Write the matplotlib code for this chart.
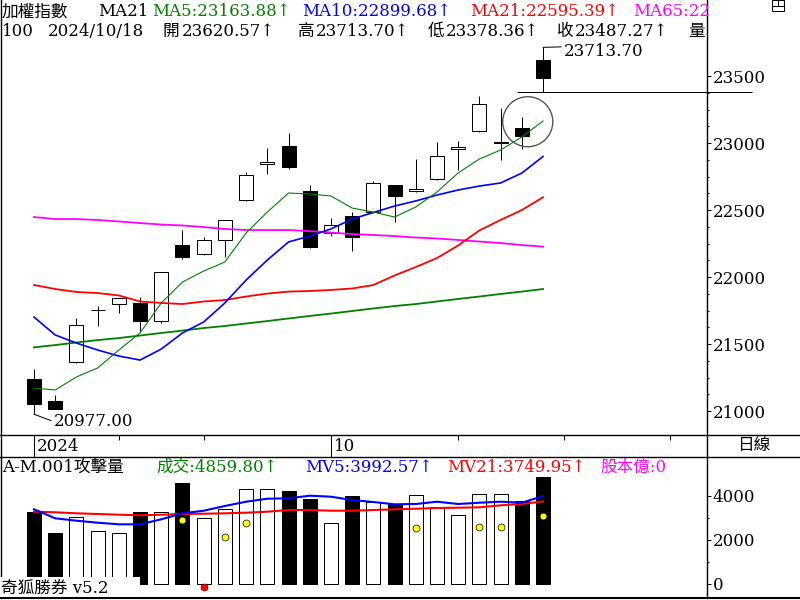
import matplotlib
matplotlib.use('Agg')
import matplotlib.pyplot as plt
import numpy as np
from matplotlib.patches import Rectangle, Ellipse
from matplotlib.lines import Line2D
from matplotlib.ticker import FixedLocator

plt.rcParams['font.family'] = ['DejaVu Serif', 'Noto Sans CJK TC']
plt.rcParams['font.size'] = 12

# ---- data ----
opens = [21240, 21075, 21364, 21752, 21797, 21804, 21670, 22239, 22170, 22274, 22573, 22841, 22978,
         22642, 22327, 22456, 22483, 22685, 22640, 22729, 22953, 23087, 23000, 23112, 23620.57]
highs = [21314, 21118, 21692, 21782, 21845, 21849, 22040, 22351, 22299, 22428, 22784, 22961, 23075,
         22685, 22441, 22483, 22714, 22690, 22881, 23008, 23015, 23351, 23261, 23194, 23713.70]
lows = [20977.00, 21015, 21360, 21635, 21730, 21588, 21655, 22133, 22165, 22152, 22570, 22771, 22808,
        22215, 22309, 22192, 22480, 22413, 22637, 22725, 22801, 23085, 22871, 22953, 23378.36]
closes = [21055, 21018, 21640, 21752, 21842, 21675, 22036, 22152, 22274, 22424, 22759, 22856, 22823,
          22222, 22388, 22301, 22700, 22607, 22657, 22901, 22968, 23289, 23005, 23055, 23487.27]

ma5 = [21172, 21158, 21255, 21322, 21456, 21583, 21807, 21963, 22045, 22113, 22329, 22485, 22627,
       22620, 22605, 22515, 22485, 22448, 22523, 22635, 22777, 22881, 22948, 23045, 23163.88]
ma10 = [21702, 21568, 21508, 21456, 21411, 21381, 21463, 21583, 21665, 21807, 21978, 22127, 22262,
        22306, 22359, 22433, 22482, 22530, 22568, 22612, 22650, 22679, 22702, 22776, 22899.68]
ma21 = [21941, 21911, 21889, 21881, 21863, 21818, 21807, 21799, 21818, 21829, 21855, 21877, 21892,
        21896, 21904, 21915, 21941, 22012, 22075, 22142, 22236, 22348, 22426, 22500, 22595.39]
ma65 = [22448, 22433, 22433, 22426, 22415, 22403, 22392, 22385, 22373, 22359, 22351, 22351, 22351,
        22343, 22332, 22321, 22314, 22306, 22295, 22288, 22277, 22265, 22254, 22239, 22227]
ma_long = [21476, 21493, 21512, 21530, 21545, 21564, 21583, 21601, 21620, 21635, 21654, 21672, 21691,
           21710, 21728, 21747, 21766, 21784, 21799, 21818, 21837, 21855, 21874, 21892, 21911]

volume = [3265, 2306, 3023, 2397, 2306, 3265, 3265, 4589, 2977, 3402, 4315, 4315, 4224,
          3858, 2763, 3995, 3721, 3630, 4041, 3479, 3128, 4087, 4087, 3750, 4859.80]
mv5 = [3388, 2977, 2868, 2776, 2703, 2703, 2932, 3205, 3324, 3539, 3735, 3872, 3890,
       4009, 3963, 3813, 3721, 3616, 3630, 3735, 3630, 3689, 3735, 3689, 3992.57]
mv21 = [3279, 3251, 3205, 3174, 3142, 3114, 3142, 3174, 3187, 3205, 3233, 3279, 3356,
        3356, 3324, 3324, 3356, 3388, 3416, 3447, 3461, 3479, 3571, 3630, 3749.95]
attack_idx = [7, 9, 10, 18, 21, 22, 24]
attack_val = [2900, 2123, 2763, 2548, 2580, 2580, 3096]
weak_idx = [8]
weak_val = [-146]

price_ticks = [21000, 21500, 22000, 22500, 23000, 23500]
vol_ticks = [0, 2000, 4000]
date_ticks = [0, 4, 8, 14, 20, 25, 30]
month_ticks = [0, 14]
month_labels = ['2024', '10']

# ---- layout helpers (pixel -> figure fraction) ----
W, H = 800, 600
PX = 0.72  # one pixel in points


def fx(x):
    return x / W


def fy(y):
    return 1 - y / H


def hline(y, x0, x1, lw=1.0):
    fig.add_artist(Line2D([fx(x0), fx(x1)], [fy(y), fy(y)], transform=fig.transFigure,
                          color='black', lw=lw))


def vline(x, y0, y1, lw=1.0):
    fig.add_artist(Line2D([fx(x), fx(x)], [fy(y0), fy(y1)], transform=fig.transFigure,
                          color='black', lw=lw))


def label(x, y, s, color='black', **kw):
    fig.text(fx(x), fy(y), s, color=color, va='baseline', ha='left', **kw)


fig = plt.figure(figsize=(8, 6), dpi=100)
fig.patch.set_facecolor('white')

XL = (-1.556, 31.73)
ax_p = fig.add_axes([fx(1), fy(435), 706 / W, 435 / H])
ax_d = fig.add_axes([fx(1), fy(456.7), 706 / W, 21.7 / H])
ax_v = fig.add_axes([fx(1), fy(597.5), 706 / W, (597.5 - 456.7) / H])
for ax in (ax_p, ax_d, ax_v):
    ax.set_xlim(*XL)
    ax.set_xticks([])
    for s in ax.spines.values():
        s.set_visible(False)

# ---- price panel ----
bw = 0.66
idx = np.arange(len(closes))
up = [c >= o for o, c in zip(opens, closes)]
for i in idx:
    o, h, l, c = opens[i], highs[i], lows[i], closes[i]
    ax_p.vlines(i, l, h, color='black', lw=PX, zorder=2)
    ax_p.add_patch(Rectangle((i - bw / 2, min(o, c)), bw, abs(c - o),
                             facecolor='white' if up[i] else 'black',
                             edgecolor='black', lw=PX, zorder=3))

ax_p.plot(idx, ma_long, color='#008000', lw=1.3, zorder=4)
ax_p.plot(idx, ma65, color='#ff00ff', lw=1.3, zorder=4)
ax_p.plot(idx, ma21, color='#ff0000', lw=1.3, zorder=4)
ax_p.plot(idx, ma10, color='#0000ff', lw=1.2, zorder=4)
ax_p.plot(idx, ma5, color='#008000', lw=0.8, zorder=4)

# last-day low line and highlight circle
last = idx[-1]
ax_p.hlines(lows[-1], last - 1.24, last + 9.84, color='black', lw=PX, clip_on=False, zorder=5)
ax_p.add_patch(Ellipse((last - 0.72, 23159), 2.36, 373, facecolor='none',
                       edgecolor='#555555', lw=1.0, zorder=6))

# high / low annotations
ax_p.annotate(f'{highs[-1]:.2f}', xy=(last, highs[-1]), xytext=(21, -9),
              textcoords='offset pixels', ha='left', va='baseline',
              arrowprops=dict(arrowstyle='-', lw=PX, shrinkA=0, shrinkB=0,
                              relpos=(0, 0.8), color='black'))
ax_p.annotate(f'{lows[0]:.2f}', xy=(0, lows[0]), xytext=(20, -12),
              textcoords='offset pixels', ha='left', va='baseline',
              arrowprops=dict(arrowstyle='-', lw=PX, shrinkA=0, shrinkB=0,
                              relpos=(0, 0.5), color='black'))

ax_p.set_ylim(20822, 24067)
ax_p.yaxis.tick_right()
ax_p.set_yticks(price_ticks)
ax_p.yaxis.set_minor_locator(FixedLocator([v for v in np.arange(21000, 23501, 125) if v % 500]))
ax_p.tick_params(axis='y', which='major', direction='out', length=3, width=PX, pad=1)
ax_p.tick_params(axis='y', which='minor', direction='out', length=1.2, width=PX)

# ---- date row ----
ax_d.set_ylim(0, 1)
ax_d.set_yticks([])
for i in date_ticks:
    bot = 0.0 if i in month_ticks else 1 - 5 / 21.7
    ax_d.vlines(i, bot, 1.0, color='black', lw=PX)
for i, s in zip(month_ticks, month_labels):
    ax_d.text(i + 0.13, 0.28, s, ha='left', va='baseline')

# ---- volume panel ----
ax_v.bar(idx, volume, width=bw, color=['white' if u else 'black' for u in up],
         edgecolor='black', lw=PX, zorder=2)
ax_v.plot(idx, mv21, color='#ff0000', lw=1.5, zorder=3)
ax_v.plot(idx, mv5, color='#0000ff', lw=1.5, zorder=3)
ax_v.plot(attack_idx, attack_val, 'o', ms=5, mfc='#ffff00', mec='black', mew=0.5, zorder=4)
ax_v.plot(weak_idx, weak_val, 'o', ms=5, mfc='#ff0000', mec='#600000', mew=0.5, zorder=4,
          clip_on=False)
ax_v.set_ylim(-639, 5790)
ax_v.yaxis.tick_right()
ax_v.set_yticks(vol_ticks)
ax_v.yaxis.set_minor_locator(FixedLocator([1000, 3000]))
ax_v.tick_params(axis='y', which='major', direction='out', length=3, width=PX, pad=1)
ax_v.tick_params(axis='y', which='minor', direction='out', length=1.2, width=PX)

# ---- header texts ----
label(2, 16.5, '加權指數')
label(98, 16.5, 'MA21')
label(152, 16.5, 'MA5:23163.88↑', color='#008000')
label(302, 16.5, 'MA10:22899.68↑', color='#0000ff')
label(470, 16.5, 'MA21:22595.39↑', color='#ff0000')
label(633, 16.5, 'MA65:22', color='#ff00ff')

label(2, 36, '100')
label(48, 36, '2024/10/18')
label(162, 36, '開')
label(182, 36, '23620.57↑')
label(298, 36, '高')
label(316, 36, '23713.70↑')
label(428, 36, '低')
label(446, 36, '23378.36↑')
label(557, 36, '收')
label(575, 36, '23487.27↑')
label(688, 36, '量')

label(2, 471.5, 'A-M.001攻擊量')
label(156, 471.5, '成交:4859.80↑', color='#008000')
label(305, 471.5, 'MV5:3992.57↑', color='#0000ff')
label(447, 471.5, 'MV21:3749.95↑', color='#ff0000')
label(600, 471.5, '股本億:0', color='#ff00ff')

fig.text(fx(753.5), fy(445.5), '日線', ha='center', va='center')

# watermark with white box
fig.add_artist(Rectangle((0, fy(597)), fx(140), 20 / H, transform=fig.transFigure,
                         facecolor='white', edgecolor='none', zorder=5))
fig.text(fx(1), fy(592.5), '奇狐勝券 v5.2', ha='left', va='baseline', zorder=6)

# ---- frame lines ----
vline(0.5, 0, 598)
vline(707.3, 0, 598)
hline(435, 0, 800)
hline(456.7, 0, 800)
hline(597.8, 0, 800, lw=1.5)

# small window icon top right
fig.add_artist(Rectangle((fx(772), fy(11)), 12 / W, 11 / H, transform=fig.transFigure,
                         facecolor='none', edgecolor='black', lw=PX))
hline(6, 772, 784, lw=PX)
vline(777.5, 0, 6, lw=PX)

fig.savefig('out.png', dpi=100)
